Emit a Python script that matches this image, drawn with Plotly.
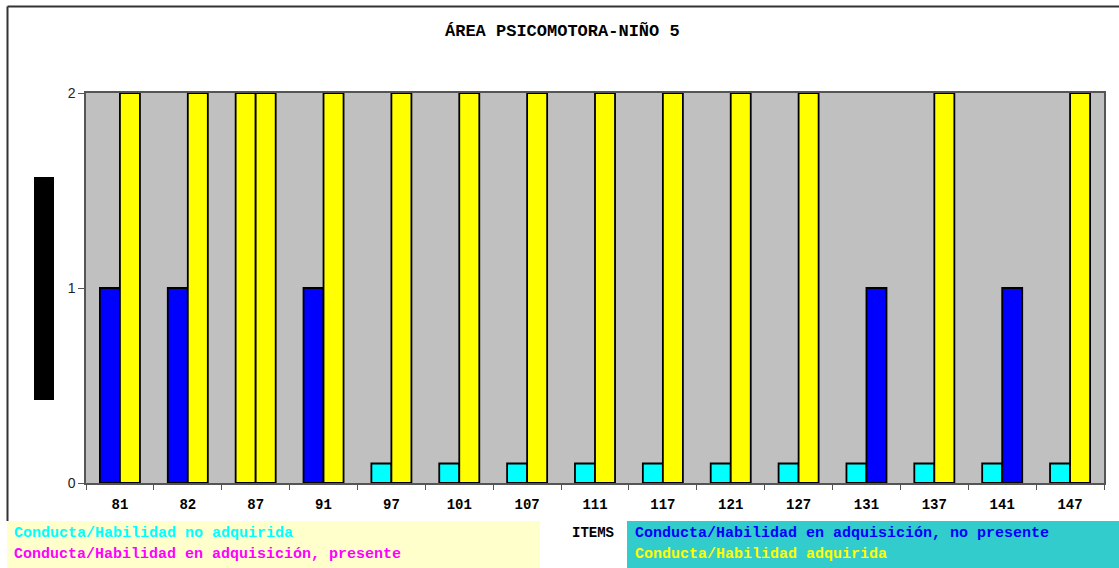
import plotly.graph_objects as go

# Items evaluated (x categories)
items = ["81", "82", "87", "91", "97", "101", "107", "111", "117", "121",
         "127", "131", "137", "141", "147"]

# Scores of the two evaluations per item (0.1 = no adquirida, 1 = en adquisición, 2 = adquirida)
eval_1 = [1, 1, 2, 1, 0.1, 0.1, 0.1, 0.1, 0.1, 0.1, 0.1, 0.1, 0.1, 0.1, 0.1]
eval_2 = [2, 2, 2, 2, 2, 2, 2, 2, 2, 2, 2, 1, 2, 1, 2]

# Legend labels
label_no = "Conducta/Habilidad no adquirida"
label_pres = "Conducta/Habilidad en adquisición, presente"
label_nopres = "Conducta/Habilidad en adquisición, no presente"
label_adq = "Conducta/Habilidad adquirida"

title_text = "ÁREA PSICOMOTORA-NIÑO 5"
x_title = "ITEMS"

W, H = 1119, 568
L, R, T, B = 86, 15, 93, 85
PW, PH = W - L - R, H - T - B


def px(x):
    return (x - L) / PW


def py(y):
    return (H - B - y) / PH


def score_color(v):
    if v >= 2:
        return "#FFFF00"
    if v >= 1:
        return "#0000FF"
    return "#00FFFF"


mono = "Liberation Mono, Courier New, monospace"

fig = go.Figure()
for vals in (eval_1, eval_2):
    fig.add_trace(go.Bar(
        x=items, y=vals,
        marker=dict(color=[score_color(v) for v in vals],
                    line=dict(color="#000000", width=1.8)),
        showlegend=False,
    ))

shapes = [
    # outer chart frame (top and left)
    dict(type="line", xref="paper", yref="paper", x0=px(7.5), x1=px(W + 5),
         y0=py(6.5), y1=py(6.5), line=dict(color="#333333", width=2)),
    dict(type="line", xref="paper", yref="paper", x0=px(7.5), x1=px(7.5),
         y0=py(6.5), y1=py(521), line=dict(color="#333333", width=2)),
    # vertical axis title block
    dict(type="rect", xref="paper", yref="paper", x0=px(34), x1=px(54),
         y0=py(400), y1=py(177), fillcolor="#000000", line=dict(width=0)),
    # legend boxes
    dict(type="rect", xref="paper", yref="paper", x0=px(7), x1=px(540),
         y0=py(568), y1=py(521), fillcolor="#FFFFCC", line=dict(width=0)),
    dict(type="rect", xref="paper", yref="paper", x0=px(627), x1=px(W + 5),
         y0=py(568), y1=py(521), fillcolor="#33CCCC", line=dict(width=0)),
]

legend_font = dict(family=mono, size=15, weight=700)
annotations = [
    dict(text=title_text, xref="paper", yref="paper", x=px(562), y=py(31),
         showarrow=False, xanchor="center", yanchor="middle",
         font=dict(family=mono, size=17, weight=700, color="#000000")),
    dict(text=x_title, xref="paper", yref="paper", x=px(593), y=py(533),
         showarrow=False, xanchor="center", yanchor="middle",
         font=dict(family=mono, size=14, weight=700, color="#000000")),
    dict(text=label_no, xref="paper", yref="paper", x=px(12), y=py(533),
         showarrow=False, xanchor="left", yanchor="middle",
         font=dict(legend_font, color="#00FFFF")),
    dict(text=label_pres, xref="paper", yref="paper", x=px(12), y=py(554),
         showarrow=False, xanchor="left", yanchor="middle",
         font=dict(legend_font, color="#FF00FF")),
    dict(text=label_nopres, xref="paper", yref="paper", x=px(633), y=py(533),
         showarrow=False, xanchor="left", yanchor="middle",
         font=dict(legend_font, color="#0000FF")),
    dict(text=label_adq, xref="paper", yref="paper", x=px(633), y=py(554),
         showarrow=False, xanchor="left", yanchor="middle",
         font=dict(legend_font, color="#FFFF00")),
]

fig.update_layout(
    width=W, height=H,
    margin=dict(l=L, r=R, t=T, b=B),
    paper_bgcolor="#FFFFFF",
    plot_bgcolor="#C0C0C0",
    barmode="group",
    bargap=0.41,
    bargroupgap=0,
    shapes=shapes,
    annotations=annotations,
    xaxis=dict(
        type="category",
        showline=True, linecolor="#555555", linewidth=1.5,
        mirror=True,
        ticks="outside", tickson="boundaries", ticklen=5,
        tickcolor="#555555",
        showgrid=False,
        tickfont=dict(family=mono, size=14, weight=700, color="#000000"),
        ticklabelstandoff=7,
    ),
    yaxis=dict(
        range=[0, 2],
        tickvals=[0, 1, 2],
        showline=True, linecolor="#555555", linewidth=1.5,
        mirror=True,
        ticks="outside", ticklen=6, tickcolor="#555555",
        showgrid=False, zeroline=False,
        tickfont=dict(family="Liberation Sans, Arial, sans-serif", size=14,
                      color="#222222"),
    ),
)

fig.write_html("out.html")
